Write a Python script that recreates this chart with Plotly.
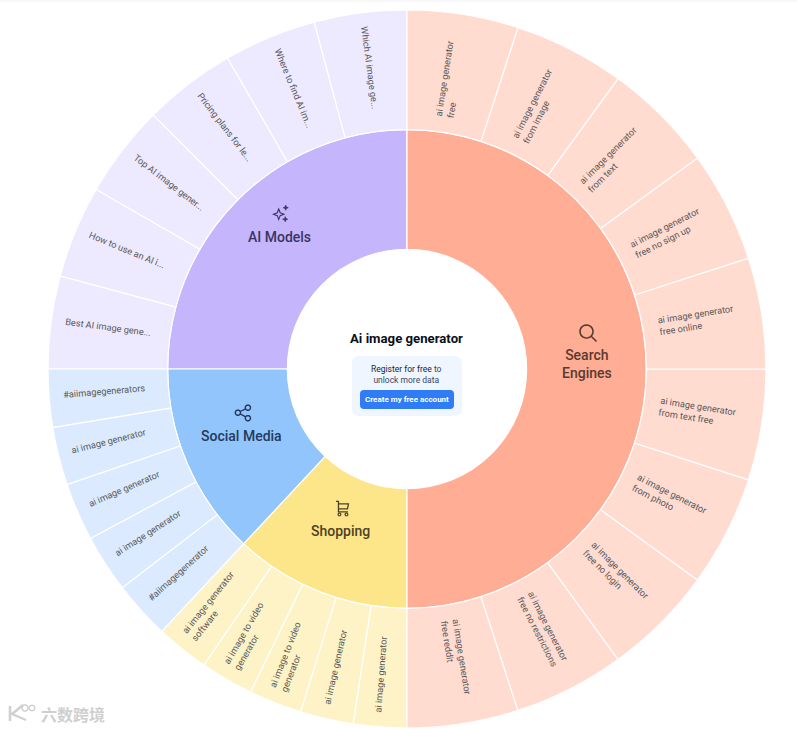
import math
import plotly.graph_objects as go

W, H = 797, 729
CX, CY = 407, 369
R_OUT = 359

# ---- data ----
categories = ["Search Engines", "Shopping", "Social Media", "AI Models"]
category_lines = [["Search", "Engines"], ["Shopping"], ["Social Media"], ["AI Models"]]

search_terms = ["ai image generator<br>free", "ai image generator<br>from image",
                "ai image generator<br>from text", "ai image generator<br>free no sign up",
                "ai image generator<br>free online", "ai image generator<br>from text free",
                "ai image generator<br>from photo", "ai image generator<br>free no login",
                "ai image generator<br>free no restrictions", "ai image generator<br>free reddit"]
shopping_terms = ["ai image generator", "ai image generator", "ai image to video<br>generator",
                  "ai image to video<br>generator", "ai image generator<br>software"]
social_terms = ["#aiimagegenerator", "ai image generator", "ai image generator",
                "ai image generator", "#aiimagegenerators"]
ai_terms = ["Best AI image gene...", "How to use an AI i...", "Top AI image gener...",
            "Pricing plans for le...", "Where to find AI im...", "Which AI image ge..."]

search_share = [6] * 10
shopping_share = [2.87] * 5
social_share = [3.13] * 5
ai_share = [5] * 6

terms = [search_terms, shopping_terms, social_terms, ai_terms]
shares = [search_share, shopping_share, social_share, ai_share]

center_title = "Ai image generator"
cta_line1 = "<span style='color:#141E46'>Register for free</span> to"
cta_line2 = "unlock more data"
cta_button = "Create my free account"
watermark = "六数跨境"

# ---- style ----
ring_colors = ["#FFAD94", "#FDE58A", "#93C5FD", "#C4B5FD"]
leaf_colors = ["#FFDBD0", "#FEF2C7", "#DBEAFE", "#EDE9FE"]
label_colors = ["#5A3A30", "#4C4226", "#233A5C", "#3C3460"]
FONT = "Roboto, sans-serif"


def px(x):
    return x / W


def py(y):
    return 1 - y / H


def pth(cmds):
    """Path given in pixel coordinates -> paper coordinates."""
    out = []
    for c in cmds:
        if isinstance(c, str):
            out.append(c)
        else:
            out.append(f"{px(c[0]):.5f},{py(c[1]):.5f}")
    return " ".join(out)


# ---- sunburst (plotly lays sectors out counter-clockwise, so feed them reversed) ----
ids, labels, parents, values, colors = ["root"], [center_title], [""], [0], ["#FFFFFF"]
for c in reversed(range(len(categories))):
    cat = categories[c]
    ids.append(cat)
    labels.append(cat)
    parents.append("root")
    values.append(0)
    colors.append(ring_colors[c])
    for i in reversed(range(len(terms[c]))):
        ids.append(f"{cat}-{i}")
        labels.append(terms[c][i])
        parents.append(cat)
        values.append(shares[c][i])
        colors.append(leaf_colors[c])

fig = go.Figure(go.Sunburst(
    ids=ids, labels=labels, parents=parents, values=values,
    branchvalues="remainder", sort=False, rotation=90,
    textinfo="none", hoverinfo="label", leaf=dict(opacity=1),
    marker=dict(colors=colors, line=dict(color="#FFFFFF", width=1.2)),
    domain=dict(x=[px(CX - R_OUT), px(CX + R_OUT)], y=[py(CY + R_OUT), py(CY - R_OUT)]),
))

annotations = []
shapes = []


def text(x, y, t, size, color, angle=0, width=None, align="center", family=FONT, weight=None):
    font = dict(size=size, color=color, family=family)
    if weight:
        font["weight"] = weight
    d = dict(xref="paper", yref="paper", x=px(x), y=py(y), text=t, showarrow=False,
             xanchor="center", yanchor="middle", textangle=angle, align=align,
             font=font, borderpad=0, borderwidth=0)
    if width:
        d["width"] = width
    annotations.append(d)


# ---- icons (pixel-drawn pictograms) ----
def stroke(path, color, w=1.4, fill="rgba(0,0,0,0)"):
    shapes.append(dict(type="path", xref="paper", yref="paper", path=pth(path),
                       line=dict(color=color, width=w), fillcolor=fill, layer="above"))


def circle_path(x, y, r):
    out = ["M", (x + r, y)]
    for a in range(1, 24):
        t = a * math.pi / 12
        out += ["L", (x + r * math.cos(t), y + r * math.sin(t))]
    return out + ["Z"]


def icon_search(x, y, c):
    stroke(circle_path(x - 1.5, y - 1.5, 6.5), c, 1.6)
    stroke(["M", (x + 3.2, y + 3.2), "L", (x + 8.5, y + 8.5)], c, 1.6)


def icon_share(x, y, c):
    stroke(circle_path(x - 5, y, 2.6), c, 1.4)
    stroke(circle_path(x + 5, y - 5, 2.6), c, 1.4)
    stroke(circle_path(x + 5, y + 5.5, 2.6), c, 1.4)
    stroke(["M", (x - 2.8, y - 1.2), "L", (x + 2.8, y - 3.9)], c, 1.3)
    stroke(["M", (x - 2.8, y + 1.2), "L", (x + 2.8, y + 4.2)], c, 1.3)


def icon_cart(x, y, c):
    stroke(["M", (x - 6, y - 7), "L", (x - 3.5, y - 7), "L", (x - 3.5, y + 3.5), "L", (x + 6, y + 3.5)], c, 1.3)
    stroke(["M", (x - 3.5, y - 4.5), "L", (x + 6.5, y - 4.5), "L", (x + 5.5, y + 0.5), "L", (x - 3.5, y + 0.5)], c, 1.3)
    stroke(circle_path(x - 2.5, y + 6, 1.4), c, 1.1)
    stroke(circle_path(x + 4.5, y + 6, 1.4), c, 1.1)


def sparkle(x, y, r):
    k = r * 0.28
    return ["M", (x, y - r), "L", (x + k, y - k), "L", (x + r, y), "L", (x + k, y + k), "L",
            (x, y + r), "L", (x - k, y + k), "L", (x - r, y), "L", (x - k, y - k), "Z"]


def icon_sparkles(x, y, c):
    stroke(sparkle(x - 2, y + 0.5, 5.2), c, 1.1)
    stroke(sparkle(x + 5, y - 6, 2.6), c, 0.6, c)
    stroke(sparkle(x + 4.5, y + 5.5, 2.6), c, 0.6, c)


icons = [icon_search, icon_cart, icon_share, icon_sparkles]

# ---- labels computed from data ----
total = sum(sum(s) for s in shares)
start = 0.0
for c, cat in enumerate(categories):
    span = sum(shares[c]) / total * 360
    mid = start + span / 2
    r = 180
    tx = CX + r * math.sin(math.radians(mid))
    ty = CY - r * math.cos(math.radians(mid))
    lines = category_lines[c]
    first_y = ty - 5 - (len(lines) - 1) * 8
    text(tx, ty - 5, "<br>".join(lines), 14, label_colors[c], weight=500)
    icons[c](tx + 1, first_y - 23, label_colors[c])
    a = start
    for t, v in zip(terms[c], shares[c]):
        w = v / total * 360
        m = a + w / 2
        box = 96
        if m < 180:
            rc = 255 + box / 2
            ang = m - 90
        else:
            rc = 345 - box / 2
            ang = m - 270
        lift = 3
        phi = math.radians(ang)
        lx = CX + rc * math.sin(math.radians(m)) + lift * math.sin(phi)
        ly = CY - rc * math.cos(math.radians(m)) - lift * math.cos(phi)
        text(lx, ly, t, 9.2, "#5A5A5A", angle=ang, width=box, align="left")
        a += w
    start += span


# ---- centre card ----
def rrect(x0, y0, x1, y1, r):
    return ["M", (x0 + r, y0), "L", (x1 - r, y0), "Q", (x1, y0), (x1, y0 + r), "L", (x1, y1 - r),
            "Q", (x1, y1), (x1 - r, y1), "L", (x0 + r, y1), "Q", (x0, y1), (x0, y1 - r), "L",
            (x0, y0 + r), "Q", (x0, y0), (x0 + r, y0), "Z"]


shapes.append(dict(type="path", xref="paper", yref="paper", path=pth(rrect(352, 356, 462, 416, 8)),
                   fillcolor="#EFF6FF", line=dict(width=0), layer="above"))
shapes.append(dict(type="path", xref="paper", yref="paper", path=pth(rrect(360, 390, 454, 409, 4)),
                   fillcolor="#2F7CF6", line=dict(width=0), layer="above"))
text(407, 338.5, f"<b>{center_title}</b>", 13.2, "#0B0F19")
text(407, 374.5, f"{cta_line1}<br>{cta_line2}", 8.5, "#3A4568")
text(407, 399.5, f"<b>{cta_button}</b>", 8, "#FFFFFF")

# ---- top fade of the page ----
shapes.append(dict(type="rect", xref="paper", yref="paper", x0=0, x1=1, y0=py(2), y1=py(0),
                   fillcolor="#F7F7F7", line=dict(width=0), layer="above"))

# ---- watermark ----
text(72.5, 713.5, watermark, 16, "#CFCFCF", family="Noto Sans CJK SC", weight=700)
stroke(["M", (10, 706), "L", (10, 721)], "#D0D0D0", 2.6)
stroke(["M", (23, 705), "L", (12, 714), "L", (26, 720)], "#D0D0D0", 2.4)
stroke(circle_path(25, 708, 3), "#D0D0D0", 1.5)
stroke(circle_path(32, 708, 2.7), "#D0D0D0", 1.5)

fig.update_layout(width=W, height=H, margin=dict(l=0, r=0, t=0, b=0), paper_bgcolor="#FFFFFF",
                  showlegend=False, annotations=annotations, shapes=shapes)
fig.write_html("out.html", config={"displayModeBar": False},
               post_script="document.body.style.margin='0';document.documentElement.style.overflow='hidden';")
